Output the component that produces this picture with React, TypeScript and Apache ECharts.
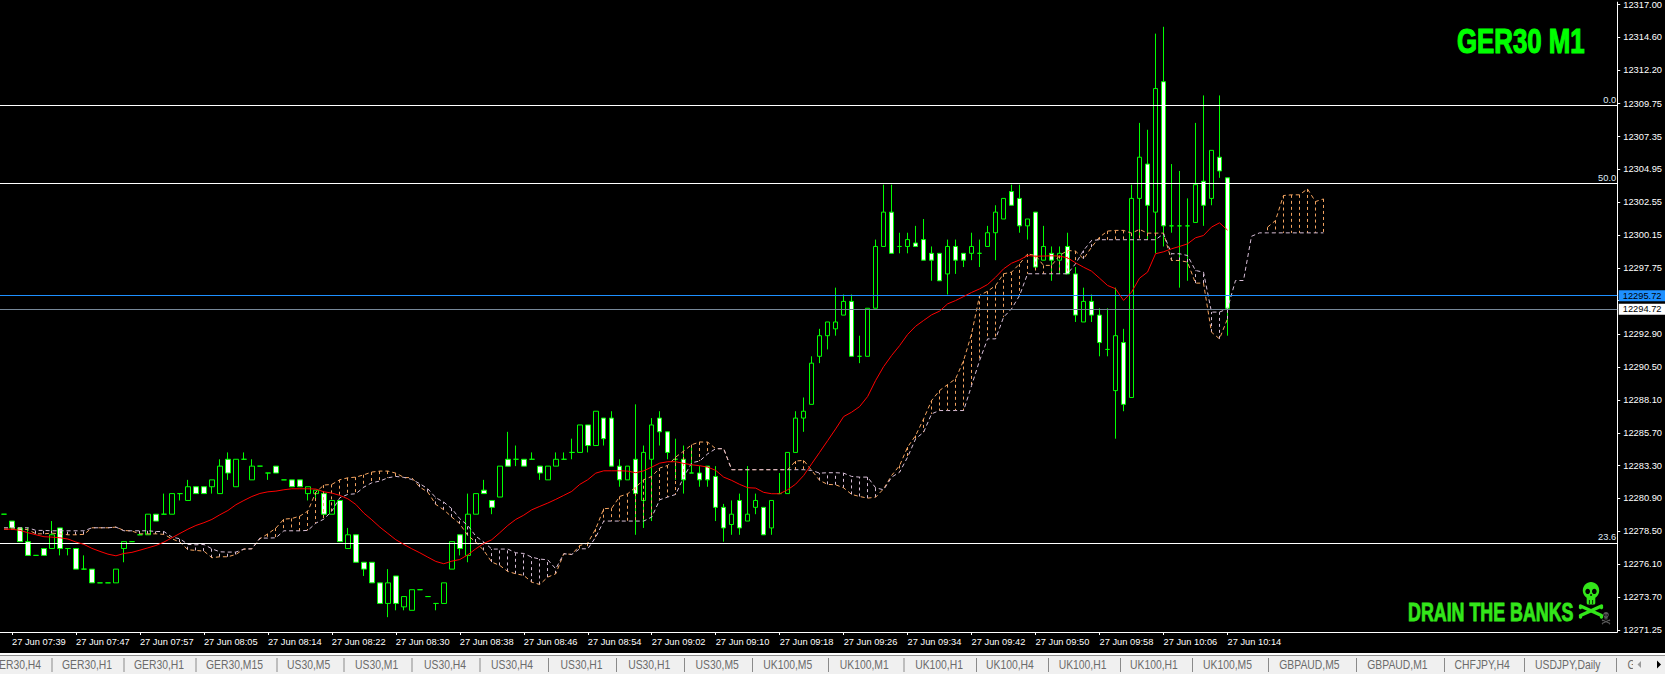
import React, { useEffect, useRef } from "react";
import * as echarts from "echarts";

const opens = [12279.72,12279.22,12278.72,12277.72,12276.72,12277.22,12277.22,12278.72,12277.22,12277.22,
12275.72,12275.72,12274.72,12274.72,12274.72,12277.22,12277.72,12278.22,12278.22,12279.72,
12279.72,12279.72,12281.22,12280.72,12281.72,12281.72,12281.72,12281.22,12283.72,12281.72,
12283.72,12282.22,12283.22,12282.72,12283.22,12282.22,12282.22,12282.22,12281.22,12281.22,
12281.22,12279.72,12280.72,12277.22,12278.22,12276.22,12276.22,12274.72,12273.22,12275.22,
12272.97,12272.72,12274.22,12273.72,12273.22,12273.22,12275.72,12278.22,12276.72,12279.72,
12281.47,12280.72,12280.97,12283.72,12283.72,12283.72,12283.72,12283.22,12282.22,12283.22,
12283.72,12284.22,12284.22,12286.22,12284.72,12286.72,12286.72,12283.22,12282.22,12283.72,
12280.72,12283.72,12286.72,12285.72,12283.72,12283.72,12282.72,12282.72,12283.22,12282.47,
12280.22,12278.97,12280.72,12279.22,12280.22,12280.22,12278.72,12281.22,12281.22,12284.22,
12286.72,12287.72,12291.22,12292.72,12293.22,12294.22,12295.22,12291.22,12291.22,12294.72,
12299.22,12301.72,12299.22,12299.22,12299.47,12299.72,12298.72,12298.72,12297.22,12299.22,
12298.72,12298.72,12298.72,12299.22,12300.22,12301.22,12303.22,12302.72,12300.72,12301.72,
12298.22,12298.72,12298.22,12299.22,12297.22,12293.72,12295.22,12294.22,12291.72,12288.72,
12292.22,12288.22,12302.72,12305.22,12301.72,12311.22,12300.72,12300.72,12300.72,12300.97,
12303.97,12302.72,12305.72,12304.22];

const closes = [12279.72,12278.72,12277.72,12276.72,12276.72,12276.72,12278.22,12277.22,12277.22,12275.72,
12275.72,12274.72,12274.72,12274.72,12275.72,12277.72,12277.72,12278.22,12279.72,12279.22,
12279.72,12281.22,12281.22,12281.72,12281.22,12281.22,12282.22,12283.22,12282.72,12283.72,
12283.72,12283.22,12283.22,12282.72,12282.72,12282.22,12281.72,12281.72,12281.72,12281.47,
12279.72,12280.72,12277.72,12278.22,12276.22,12275.72,12274.72,12273.22,12274.72,12273.22,
12273.72,12274.22,12274.22,12273.72,12273.22,12274.72,12277.72,12277.22,12279.72,12281.22,
12281.22,12280.22,12283.22,12283.22,12283.72,12283.22,12283.72,12282.72,12283.22,12283.72,
12283.72,12284.22,12286.22,12284.72,12287.22,12285.22,12283.22,12282.22,12283.22,12281.22,
12284.22,12286.22,12285.72,12284.22,12283.72,12282.22,12282.72,12282.22,12282.22,12280.22,
12278.72,12279.72,12278.72,12279.72,12280.72,12278.22,12280.72,12281.22,12284.22,12286.72,
12287.22,12290.72,12292.72,12293.72,12293.72,12295.22,12291.22,12291.22,12294.72,12299.22,
12301.72,12298.72,12299.22,12299.72,12299.22,12298.22,12298.22,12296.72,12299.22,12298.22,
12298.22,12299.22,12298.72,12300.22,12301.72,12302.72,12302.22,12300.72,12301.22,12297.72,
12299.22,12298.22,12298.72,12297.22,12294.22,12295.22,12294.22,12292.22,12291.72,12292.72,
12287.72,12302.72,12305.72,12302.22,12310.72,12300.72,12300.72,12300.72,12300.72,12303.72,
12302.22,12306.22,12304.72,12294.72];

const lows = [12279.72,12278.72,12277.72,12276.72,12276.72,12276.72,12277.22,12276.72,12276.72,12275.72,
12275.72,12274.72,12274.72,12274.72,12274.72,12276.22,12277.72,12278.22,12278.22,12279.22,
12279.72,12279.72,12280.72,12280.72,12281.22,12281.22,12281.22,12281.22,12282.22,12281.72,
12283.72,12282.22,12283.22,12282.22,12282.72,12282.22,12281.72,12281.72,12280.72,12280.72,
12279.47,12279.72,12277.72,12277.22,12276.22,12275.22,12274.72,12273.22,12272.22,12272.72,
12272.72,12272.72,12274.22,12273.72,12272.72,12273.22,12275.72,12276.72,12276.22,12279.72,
12281.22,12279.72,12280.97,12283.22,12283.22,12283.22,12283.72,12282.22,12282.22,12283.22,
12283.72,12283.72,12284.22,12284.22,12284.72,12284.72,12283.22,12281.72,12282.22,12278.22,
12278.72,12279.22,12284.72,12283.72,12282.22,12281.22,12282.72,12281.72,12281.72,12279.22,
12277.72,12278.22,12278.22,12279.22,12279.72,12278.22,12278.22,12281.22,12281.22,12284.22,
12285.72,12287.72,12290.72,12291.72,12292.72,12294.22,12291.22,12290.72,12291.22,12294.72,
12299.22,12298.72,12298.72,12298.72,12299.22,12298.22,12296.72,12296.72,12295.72,12297.22,
12297.72,12298.22,12297.72,12299.22,12298.22,12301.22,12302.22,12300.22,12299.72,12297.72,
12298.22,12296.72,12297.22,12297.22,12293.72,12293.72,12293.72,12291.22,12291.22,12285.22,
12287.22,12288.22,12299.97,12299.72,12298.72,12299.22,12300.22,12296.22,12296.72,12300.97,
12300.72,12302.22,12304.22,12292.72];

const highs = [12279.72,12279.22,12278.72,12278.72,12276.72,12277.22,12279.22,12278.72,12277.22,12277.22,
12276.72,12275.72,12274.72,12274.72,12275.72,12277.72,12277.72,12278.22,12279.72,12279.72,
12281.22,12281.22,12281.22,12282.22,12281.72,12281.72,12282.22,12283.72,12284.22,12283.72,
12284.22,12283.72,12283.22,12282.72,12283.22,12282.22,12282.22,12282.22,12281.72,12281.47,
12281.22,12280.72,12280.72,12278.72,12278.22,12276.22,12276.22,12274.72,12275.72,12275.22,
12273.72,12274.22,12274.22,12273.72,12273.22,12274.72,12277.72,12278.22,12281.22,12281.22,
12282.22,12280.72,12283.22,12285.72,12284.72,12283.72,12284.22,12283.22,12283.22,12284.22,
12284.22,12285.22,12286.22,12286.22,12287.22,12286.72,12287.22,12283.72,12283.22,12287.72,
12284.72,12286.72,12287.22,12285.72,12285.22,12284.72,12284.72,12283.22,12283.22,12283.22,
12280.47,12280.72,12281.22,12283.22,12281.22,12280.22,12280.72,12282.72,12284.22,12287.22,
12288.22,12291.22,12293.22,12293.72,12296.22,12295.72,12295.72,12292.72,12294.72,12299.72,
12303.72,12303.72,12300.22,12300.22,12300.72,12301.22,12299.22,12298.72,12299.72,12299.72,
12298.72,12300.22,12299.72,12300.72,12302.22,12302.72,12303.72,12303.72,12301.22,12301.72,
12300.72,12299.22,12299.22,12300.22,12297.72,12296.22,12295.72,12294.72,12294.72,12296.22,
12293.22,12303.72,12308.22,12307.72,12314.72,12315.22,12305.22,12304.72,12302.72,12308.22,
12310.22,12306.22,12310.22,12304.22];

const maValues = [12278.63,12278.63,12278.54,12278.37,12278.22,12278.08,12278.05,12278.00,12277.91,12277.69,
12277.52,12277.23,12277.01,12276.81,12276.69,12276.86,12276.94,12277.10,12277.27,12277.44,
12277.69,12278.00,12278.32,12278.63,12278.90,12279.10,12279.34,12279.68,12279.99,12280.41,
12280.72,12281.01,12281.23,12281.35,12281.40,12281.50,12281.57,12281.57,12281.57,12281.55,
12281.35,12281.26,12281.09,12280.84,12280.43,12279.80,12279.31,12278.78,12278.32,12277.86,
12277.52,12277.20,12276.91,12276.59,12276.28,12276.11,12276.30,12276.42,12276.76,12277.20,
12277.59,12277.86,12278.37,12278.90,12279.34,12279.65,12280.04,12280.29,12280.53,12280.80,
12281.09,12281.38,12281.89,12282.23,12282.71,12282.88,12282.88,12282.88,12282.86,12282.74,
12282.88,12283.15,12283.44,12283.54,12283.54,12283.42,12283.32,12283.25,12283.15,12282.91,
12282.42,12282.18,12281.89,12281.65,12281.62,12281.31,12281.21,12281.21,12281.50,12281.91,
12282.54,12283.39,12284.23,12285.08,12285.93,12286.83,12287.15,12287.56,12288.29,12289.46,
12290.47,12291.28,12292.00,12292.81,12293.41,12293.83,12294.24,12294.51,12295.04,12295.28,
12295.57,12295.87,12296.13,12296.45,12296.98,12297.59,12298.00,12298.24,12298.56,12298.51,
12298.52,12298.54,12298.52,12298.39,12298.03,12297.71,12297.42,12296.91,12296.38,12296.14,
12295.29,12295.89,12296.91,12297.35,12298.69,12298.83,12299.05,12299.22,12299.41,12299.85,
12300.02,12300.63,12300.94,12300.41];

const spanA = [12278.63,12278.63,12278.66,12278.59,12278.29,12278.29,12278.34,12278.29,12278.22,12278.22,
12278.25,12278.73,12278.73,12278.73,12278.78,12278.54,12278.49,12278.29,12278.29,12278.29,
12278.25,12277.93,12277.69,12277.13,12277.08,12277.03,12276.55,12276.62,12276.62,12276.79,
12277.18,12277.20,12277.93,12278.29,12278.71,12279.36,12279.41,12279.58,12279.95,12281.33,
12281.84,12281.89,12282.23,12282.37,12282.42,12282.59,12282.79,12282.86,12282.86,12282.71,
12282.40,12282.37,12281.69,12281.33,12280.43,12280.04,12279.51,12279.02,12278.17,12277.69,
12277.08,12276.23,12275.99,12275.55,12275.38,12275.26,12274.77,12274.60,12275.14,12275.38,
12276.84,12276.79,12277.44,12277.61,12278.66,12280.12,12280.16,12281.01,12281.21,12281.69,
12282.23,12282.47,12283.08,12283.27,12283.88,12284.32,12284.78,12284.98,12284.97,12284.49,
12284.49,12282.96,12282.96,12282.96,12282.96,12282.96,12282.96,12282.96,12282.96,12283.59,
12283.64,12282.91,12282.18,12281.89,12281.86,12281.64,12281.16,12281.01,12280.89,12280.96,
12281.57,12282.54,12283.27,12284.61,12285.45,12286.66,12288.00,12288.73,12289.16,12289.58,
12290.91,12292.85,12295.65,12295.96,12296.37,12297.23,12297.35,12297.95,12298.68,12298.56,
12297.84,12297.84,12298.56,12298.93,12298.88,12298.32,12299.17,12299.90,12300.34,12300.39,
12300.39,12300.19,12300.46,12300.19,12300.19,12300.19,12298.20,12298.20,12298.08,12296.55,
12296.55,12292.98,12292.49,12293.95,null,null,null,null,12300.62,12301.11,
12302.93,12302.98,12302.98,12303.41,12302.49,12302.68];

const spanB = [12278.73,12278.73,12278.73,12278.73,12278.54,12278.54,12278.51,12278.51,12278.51,12278.51,
12278.51,12278.73,12278.73,12278.73,12278.78,12278.51,12278.51,12278.51,12278.51,12278.46,
12278.46,12278.05,12277.93,12277.52,12277.49,12277.52,12277.20,12276.98,12276.96,12276.96,
12277.18,12277.20,12277.98,12277.98,12278.00,12278.51,12278.51,12278.51,12278.54,12279.07,
12279.36,12279.95,12280.92,12281.16,12281.21,12281.69,12282.01,12282.13,12282.37,12282.47,
12282.40,12282.25,12281.94,12281.57,12280.92,12280.60,12280.12,12279.39,12278.90,12278.12,
12277.69,12277.18,12277.18,12277.18,12276.91,12276.86,12276.59,12276.45,12276.40,12275.74,
12276.84,12276.79,12277.20,12277.20,12278.05,12279.22,12279.22,12279.22,12279.22,12279.22,
12279.22,12279.51,12280.77,12280.97,12281.16,12282.42,12283.47,12283.59,12284.12,12284.49,
12284.49,12282.96,12282.96,12282.96,12282.96,12282.96,12282.96,12282.96,12282.96,12282.96,
12282.96,12282.91,12282.71,12282.74,12282.74,12282.71,12282.47,12282.42,12282.42,12281.64,
12281.50,12282.42,12282.78,12283.88,12285.21,12285.69,12287.03,12287.27,12287.27,12287.27,
12287.27,12289.09,12290.91,12292.49,12292.49,12294.07,12294.68,12295.65,12297.23,12297.23,
12297.23,12297.23,12297.23,12297.23,12297.96,12298.93,12299.66,12299.71,12299.71,12299.71,
12299.71,12299.71,12299.71,12299.71,12299.71,12300.14,12298.69,12298.69,12298.56,12297.47,
12297.35,12294.44,12294.44,12294.68,12296.74,12296.74,12299.96,12300.21,12300.21,12300.21,
12300.21,12300.21,12300.21,12300.21,12300.21,12300.21];

const timeTicks = ["27 Jun 07:39","27 Jun 07:47","27 Jun 07:57","27 Jun 08:05","27 Jun 08:14","27 Jun 08:22","27 Jun 08:30","27 Jun 08:38","27 Jun 08:46","27 Jun 08:54","27 Jun 09:02","27 Jun 09:10","27 Jun 09:18","27 Jun 09:26","27 Jun 09:34","27 Jun 09:42","27 Jun 09:50","27 Jun 09:58","27 Jun 10:06","27 Jun 10:14"];
const priceTicks = [12317.00,12314.60,12312.20,12309.75,12307.35,12304.95,12302.55,12300.15,12297.75,12295.35,12292.90,12290.50,12288.10,12285.70,12283.30,12280.90,12278.50,12276.10,12273.70,12271.25];
const hiddenPriceTick = 12295.35; // covered by the ask and bid boxes in the reference
const fibLevels = [{ name: "0.0", price: 12309.63 }, { name: "50.0", price: 12303.95 }, { name: "23.6", price: 12277.66 }];
const askPrice = 12295.72;
const bidPrice = 12294.72;
const tabNames = ["GER30,H4","GER30,H1","GER30,H1","GER30,M15","US30,M5","US30,M1","US30,H4","US30,H4","US30,H1","US30,H1","US30,M5","UK100,M5","UK100,M1","UK100,H1","UK100,H4","UK100,H1","UK100,H1","UK100,M5","GBPAUD,M5","GBPAUD,M1","CHFJPY,H4","USDJPY,Daily","G"];

// layout of the terminal's tab strip (not chart data)
const tabStarts = [-9,62,134,206,287,355,424,491,560.5,628.2,695.6,763.3,839.8,915.2,986,1058.7,1130,1203,1279.3,1367.3,1454.6,1535,1627.6];
const tabSeps = [52,124,196,277,344,412,480,548.5,616.5,684.5,752.5,828.5,904,976.5,1048.5,1120.5,1192.5,1268.5,1356.5,1444.5,1524.5,1616.5];

const GREEN = "#00ff00";
const SLOTS = 202;
const FONT = '"Liberation Sans", Arial, sans-serif';

function skull(cx: number, cy: number, s: number, color: string) {
  const bone = (x1: number, y1: number, x2: number, y2: number) => [
    { type: "line", shape: { x1, y1, x2, y2 }, style: { stroke: color, lineWidth: 3.4, lineCap: "round" } },
    { type: "circle", shape: { cx: x1, cy: y1 + 1.5, r: 1.7 }, style: { fill: color } },
    { type: "circle", shape: { cx: x2, cy: y2 + 1.5, r: 1.7 }, style: { fill: color } },
  ];
  return {
    type: "group",
    x: cx,
    y: cy,
    scaleX: s,
    scaleY: s,
    children: [
      { type: "ellipse", shape: { cx: 0, cy: -9.5, rx: 8.2, ry: 8.5 }, style: { fill: color } },
      { type: "rect", shape: { x: -4.3, y: -4, width: 8.6, height: 8.5, r: 1.5 }, style: { fill: color } },
      { type: "ellipse", shape: { cx: -3.3, cy: -8.6, rx: 2.3, ry: 2.6 }, style: { fill: "#000" } },
      { type: "ellipse", shape: { cx: 3.3, cy: -8.6, rx: 2.3, ry: 2.6 }, style: { fill: "#000" } },
      { type: "circle", shape: { cx: 0, cy: -5, r: 0.9 }, style: { fill: "#000" } },
      { type: "line", shape: { x1: -1.6, y1: 0, x2: -1.6, y2: 4 }, style: { stroke: "#000", lineWidth: 0.8 } },
      { type: "line", shape: { x1: 1.6, y1: 0, x2: 1.6, y2: 4 }, style: { stroke: "#000", lineWidth: 0.8 } },
      ...bone(-10.5, 15.5, 10.5, 6),
      ...bone(-10.5, 6, 10.5, 15.5),
    ],
  };
}

function buildOption(): any {
  const categories = Array.from({ length: SLOTS }, (_, i) => {
    const t = (i - 1) / 8;
    return Number.isInteger(t) && timeTicks[t] ? timeTicks[t] : `#${i}`;
  });
  const isTick = (i: number) => (i - 1) % 8 === 0 && (i - 1) / 8 < timeTicks.length;
  const candles = opens.map((o, i) => [o, closes[i], lows[i], highs[i]]);
  const hatch = spanB.map((b, i) => [i, spanA[i] == null ? b : spanA[i], b]);

  const tabTexts = tabNames.map((t, i) => ({
    type: "text",
    x: tabStarts[i],
    y: 665,
    scaleX: 0.83,
    style: { text: t, fill: "#6b6b6b", font: `12.5px ${FONT}`, verticalAlign: "middle" },
  }));
  const seps = tabSeps.map((x) => ({
    type: "line",
    shape: { x1: x, y1: 658, x2: x, y2: 672 },
    style: { stroke: "#8a8a8a", lineWidth: 1 },
  }));

  return {
    animation: false,
    backgroundColor: "#000",
    grid: [
      { left: -0.67, width: SLOTS * 8, top: 0, height: 632 },
      { left: 0, width: 1617.5, top: 0, height: 632 },
    ],
    xAxis: [
      {
        type: "category",
        gridIndex: 0,
        data: categories,
        boundaryGap: true,
        axisLine: { show: false },
        axisTick: { show: true, alignWithLabel: true, interval: (i: number) => isTick(i), length: 3, lineStyle: { color: "#fff" } },
        axisLabel: { show: true, interval: (i: number) => isTick(i), align: "left", margin: 5, color: "#fff", fontFamily: FONT, fontSize: 9.3, hideOverlap: false },
        splitLine: { show: false },
      },
      {
        type: "value",
        gridIndex: 1,
        min: 0,
        max: 1,
        axisLine: { show: true, onZero: false, lineStyle: { color: "#fff", width: 1 } },
        axisTick: { show: false },
        axisLabel: { show: false },
        splitLine: { show: false },
      },
    ],
    yAxis: [
      { type: "value", gridIndex: 0, min: 12271.14, max: 12317.17, show: false, splitLine: { show: false } },
      {
        type: "value",
        gridIndex: 1,
        position: "right",
        min: 12271.14,
        max: 12317.17,
        axisLine: { show: true, onZero: false, lineStyle: { color: "#fff", width: 1 } },
        axisTick: { show: true, length: 3, lineStyle: { color: "#fff" }, customValues: priceTicks },
        axisLabel: {
          show: true,
          margin: 6,
          color: "#fff",
          fontFamily: FONT,
          fontSize: 9.3,
          customValues: priceTicks.filter((p) => p !== hiddenPriceTick),
          showMinLabel: true,
          showMaxLabel: true,
          formatter: (v: number) => v.toFixed(2),
        },
        splitLine: { show: false },
      },
    ],
    series: [
      {
        type: "candlestick",
        xAxisIndex: 0,
        yAxisIndex: 0,
        data: candles,
        barWidth: 5,
        itemStyle: {
          color: "#000",
          color0: "#fff",
          borderColor: GREEN,
          borderColor0: GREEN,
          borderColorDoji: GREEN,
          borderWidth: 1,
        },
        silent: true,
        z: 2,
      },
      {
        type: "custom",
        xAxisIndex: 0,
        yAxisIndex: 0,
        data: hatch,
        encode: { x: 0, y: [1, 2] },
        silent: true,
        z: 3,
        renderItem: (_: any, api: any) => {
          const a = api.value(1);
          const b = api.value(2);
          if (Math.abs(a - b) < 0.15) return null;
          const pa = api.coord([api.value(0), a]);
          const pb = api.coord([api.value(0), b]);
          const x = Math.floor(pa[0]) + 0.5;
          return {
            type: "line",
            shape: { x1: x, y1: pa[1], x2: x, y2: pb[1] },
            style: { stroke: a > b ? "#F4A460" : "#D8BFD8", lineWidth: 1, lineDash: [3, 3], fill: null },
          };
        },
      },
      {
        type: "line",
        name: "Senkou A",
        xAxisIndex: 0,
        yAxisIndex: 0,
        data: spanA,
        connectNulls: false,
        showSymbol: false,
        symbol: "none",
        silent: true,
        z: 4,
        lineStyle: { color: "#F4A460", width: 1, type: [4, 3] },
      },
      {
        type: "line",
        name: "Senkou B",
        xAxisIndex: 0,
        yAxisIndex: 0,
        data: spanB,
        showSymbol: false,
        symbol: "none",
        silent: true,
        z: 4,
        lineStyle: { color: "#D8BFD8", width: 1, type: [4, 3] },
      },
      {
        type: "line",
        name: "MA",
        xAxisIndex: 0,
        yAxisIndex: 0,
        data: maValues,
        showSymbol: false,
        symbol: "none",
        silent: true,
        z: 5,
        lineStyle: { color: "#ff0000", width: 1 },
      },
      {
        type: "line",
        xAxisIndex: 1,
        yAxisIndex: 1,
        data: [],
        silent: true,
        z: 6,
        markLine: {
          silent: true,
          symbol: "none",
          animation: false,
          data: [
            ...fibLevels.map((f) => ({
              yAxis: f.price,
              name: f.name,
              lineStyle: { color: "#fff", width: 1, type: "solid" },
              label: {
                show: true,
                position: "insideEndTop",
                distance: 1,
                formatter: f.name,
                color: "#dfe8f5",
                fontFamily: FONT,
                fontSize: 9.3,
              },
            })),
            {
              yAxis: askPrice,
              name: "ask",
              lineStyle: { color: "#1e90ff", width: 1, type: "solid" },
              label: {
                show: true,
                position: "end",
                distance: 1.5,
                formatter: askPrice.toFixed(2),
                color: "#000",
                backgroundColor: "#1e90ff",
                padding: [1, 4, 1, 4],
                fontFamily: FONT,
                fontSize: 9.3,
              },
            },
            {
              yAxis: bidPrice,
              name: "bid",
              lineStyle: { color: "#778899", width: 1, type: "solid" },
              label: {
                show: true,
                position: "end",
                distance: 1.5,
                formatter: bidPrice.toFixed(2),
                color: "#000",
                backgroundColor: "#fff",
                padding: [1, 4, 1, 4],
                fontFamily: FONT,
                fontSize: 9.3,
              },
            },
          ],
        },
      },
    ],
    graphic: {
      elements: [
        {
          type: "text",
          x: 1457,
          y: 41.5,
          scaleX: 0.738,
          style: { text: "GER30 M1", fill: GREEN, stroke: GREEN, lineWidth: 1.2, font: `bold 35px ${FONT}`, verticalAlign: "middle" },
        },
        {
          type: "text",
          x: 1408,
          y: 612.2,
          scaleX: 0.676,
          style: { text: "DRAIN THE BANKS", fill: "#33e61a", stroke: "#33e61a", lineWidth: 0.9, font: `bold 26.4px ${FONT}`, verticalAlign: "middle" },
        },
        skull(1591, 600, 1, "#33e61a"),
        skull(1606, 618, 0.34, "#5a5a5a"),
        { type: "rect", shape: { x: 0, y: 653, width: 1665, height: 2 }, style: { fill: "#ffffff" } },
        { type: "rect", shape: { x: 0, y: 655, width: 1665, height: 19 }, style: { fill: "#f0f0f0" } },
        { type: "rect", shape: { x: 0, y: 655, width: 1665, height: 1 }, style: { fill: "#8f8f8f" } },
        ...seps,
        ...tabTexts,
        { type: "rect", shape: { x: 1633, y: 656, width: 32, height: 18 }, style: { fill: "#f0f0f0" } },
        { type: "polygon", shape: { points: [[1641, 661], [1641, 668], [1637.5, 664.5]] }, style: { fill: "#9a9a9a" } },
        { type: "polygon", shape: { points: [[1657, 660.5], [1657, 668.5], [1661, 664.5]] }, style: { fill: "#000" } },
      ],
    },
  };
}

export default function App() {
  const ref = useRef<HTMLDivElement>(null);
  useEffect(() => {
    document.body.style.margin = "0";
    document.body.style.background = "#000";
    document.body.style.overflow = "hidden";
    const chart = echarts.init(ref.current!, undefined, { renderer: "svg" });
    chart.setOption(buildOption());
    return () => chart.dispose();
  }, []);
  return <div ref={ref} style={{ width: 1665, height: 674, position: "absolute", left: 0, top: 0 }} />;
}
